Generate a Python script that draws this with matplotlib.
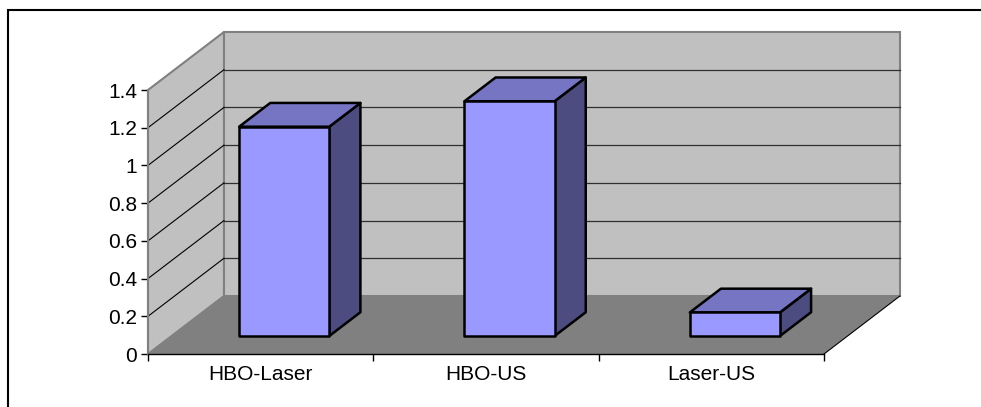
import numpy as np
import matplotlib
matplotlib.use("Agg")
from matplotlib import pyplot as plt
from matplotlib.patches import Polygon, Rectangle

categories = ['HBO-Laser', 'HBO-US', 'Laser-US']
values = [1.11, 1.245, 0.125]
y_ticks = [0, 0.2, 0.4, 0.6, 0.8, 1.0, 1.2, 1.4]
y_labels = ['0', '0.2', '0.4', '0.6', '0.8', '1', '1.2', '1.4']

plt.rcParams['font.family'] = ['Liberation Sans', 'DejaVu Sans']

W, H = 981, 407
fig = plt.figure(figsize=(W / 100, H / 100), dpi=100)
ax = fig.add_axes([148 / W, (H - 354) / H, 676 / W, 264 / H])
n = len(categories)
ymax = y_ticks[-1]
ax.set_xlim(0, n)
ax.set_ylim(0, ymax)

# depth offset of the back wall, in data units (x: categories, y: values)
dx, dy = 0.337, 0.3075


def shift(pts, d):
    return [(x + dx * d, y + dy * d) for x, y in pts]


wall_edge = '#808080'
# back wall, side wall, floor
ax.add_patch(Polygon(shift([(0, 0), (n, 0), (n, ymax), (0, ymax)], 1),
                     fc='#c0c0c0', ec=wall_edge, lw=1.5, clip_on=False, zorder=1))
ax.add_patch(Polygon([(0, 0), (0, ymax)] + shift([(0, ymax), (0, 0)], 1),
                     fc='#c0c0c0', ec=wall_edge, lw=1.5, clip_on=False, zorder=1))
ax.add_patch(Polygon([(0, 0), (n, 0)] + shift([(n, 0), (0, 0)], 1),
                     fc='#808080', ec='none', clip_on=False, zorder=1))
# floor front-right edge
ax.plot([n, n + dx], [0, dy], color='black', lw=0.8, clip_on=False, zorder=1.5)

# gridlines on back and side wall
for v in y_ticks[1:-1]:
    (bx0, by0), (bx1, by1) = shift([(0, v), (n, v)], 1)
    ax.plot([bx0, bx1], [by0, by1], color='#303030', lw=0.9, clip_on=False, zorder=2)
    ax.plot([0, bx0], [v, by0], color='black', lw=0.8, clip_on=False, zorder=2)

# 3D bars
d0, d1 = 0.31, 0.72
bw = 0.4
front_c = '#9999ff'
top_c = '#7575c3'
side_c = '#4c4c80'
for i, v in enumerate(values):
    x0, x1 = i + 0.5 - bw / 2, i + 0.5 + bw / 2
    front = shift([(x0, 0), (x1, 0), (x1, v), (x0, v)], d0)
    top = shift([(x0, v), (x1, v)], d0) + shift([(x1, v), (x0, v)], d1)
    side = shift([(x1, 0), (x1, v)], d0) + shift([(x1, v), (x1, 0)], d1)
    for pts, c in [(side, side_c), (top, top_c), (front, front_c)]:
        ax.add_patch(Polygon(pts, fc=c, ec='black', lw=1.8, joinstyle='round',
                             clip_on=False, zorder=3))

# axes lines and ticks
for s in ['top', 'right']:
    ax.spines[s].set_visible(False)
ax.spines['left'].set_color(wall_edge)
ax.spines['left'].set_linewidth(1.5)
ax.spines['left'].set_zorder(2.5)
ax.spines['bottom'].set_color('black')
ax.spines['bottom'].set_linewidth(1)
ax.patch.set_visible(False)

ax.set_yticks(y_ticks)
ax.set_yticklabels(y_labels)
ax.tick_params(axis='y', length=5, width=1, labelsize=15, pad=3, color='black')
ax.set_xticks(np.arange(n) + 0.5)
ax.set_xticklabels(categories)
ax.set_xticks(np.arange(n + 1), minor=True)
ax.tick_params(axis='x', which='major', length=0, labelsize=15, pad=8)
ax.tick_params(axis='x', which='minor', length=5, width=1, color='black')

# outer chart border (right and bottom fall outside the picture)
fig.add_artist(Rectangle((8 / W, -0.1), 1.2, (H - 10) / H + 0.1,
                         transform=fig.transFigure, fill=False, ec='black', lw=1.5))

fig.savefig('out.png', dpi=100)
